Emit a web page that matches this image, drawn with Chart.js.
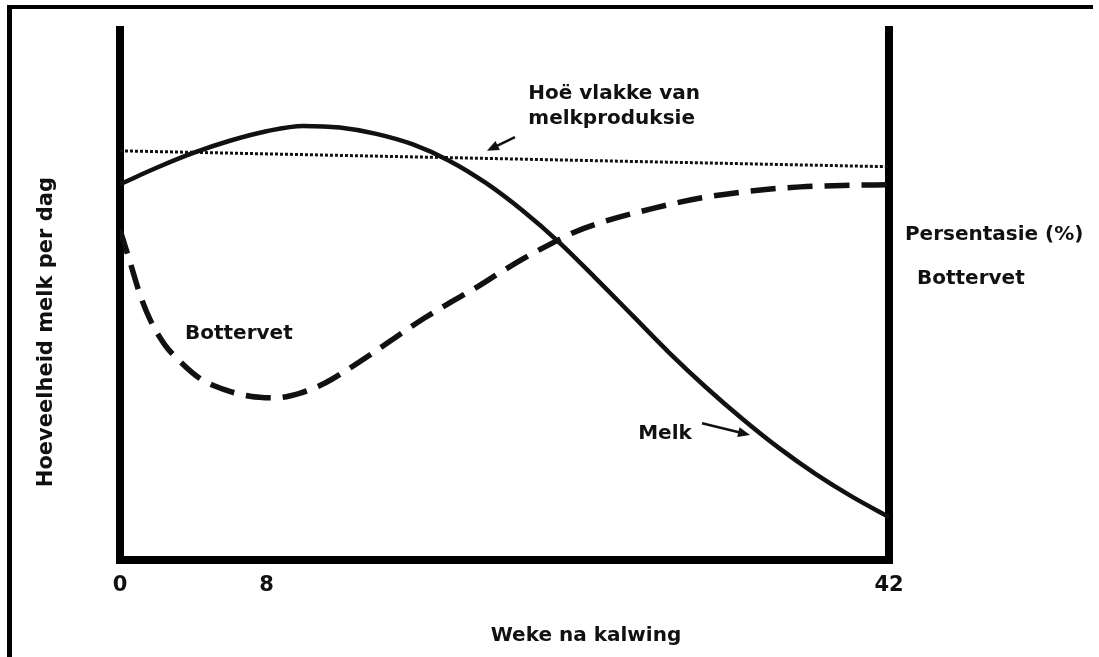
<!DOCTYPE html>
<html><head><meta charset="utf-8">
<script src="https://cdn.jsdelivr.net/npm/chart.js@4.4.1/dist/chart.umd.min.js"></script>
<style>
html,body{margin:0;padding:0;background:#fff;}
#wrap{position:relative;width:1099px;height:657px;overflow:hidden;background:#fff;}
#c{position:absolute;left:0;top:0;}
#frame{position:absolute;left:7px;top:5px;width:1086px;height:680px;border-top:4px solid #000;border-left:5px solid #000;box-sizing:border-box;pointer-events:none;}
</style></head><body>
<div id="wrap"><canvas id="c" width="1099" height="657"></canvas><div id="frame"></div></div>
<script>
// Weeks after calving (x) and relative level (y, 0-100, schematic)
const melkWeeks = [0, 2, 4, 6, 8, 10, 12, 14, 16, 18, 20, 22, 24, 26, 28, 30, 32, 34, 36, 38, 40, 42];
const melkLevel = [70.9, 74.0, 76.8, 79.1, 80.9, 81.9, 81.6, 80.4, 78.4, 75.3, 71.1, 65.9, 59.9, 53.1, 46.1, 39.1, 32.6, 26.6, 21.1, 16.2, 11.9, 8.1];

const fatWeeks = [0, 0.55, 1.1, 1.65, 2.45, 3.3, 4.35, 5.75, 7.1, 8.45, 9.85, 11.2, 12.55, 13.95, 15.3, 16.65, 18.0, 19.4, 20.75, 22.1, 23.5, 24.85, 26.2, 28.95, 31.7, 34.4, 37.15, 39.85, 42];
const fatLevel = [62.3, 56.2, 50.0, 45.3, 40.6, 37.4, 34.3, 32.1, 30.9, 30.6, 31.5, 33.4, 36.2, 39.4, 42.6, 45.7, 48.5, 51.3, 54.2, 57.0, 59.6, 61.9, 63.6, 66.2, 68.3, 69.6, 70.4, 70.7, 70.8];

const peakWeeks = [0, 42];
const peakLevel = [77.2, 74.2];

const xTickValues = [0, 8, 42];
const xTickLabels = ['0', '8', '42'];

const xTitle = 'Weke na kalwing';
const yTitle = 'Hoeveelheid melk per dag';

// Annotation texts (data coordinates: week, level)
const noteTexts = ['Hoë vlakke van', 'melkproduksie', 'Bottervet', 'Melk', 'Persentasie (%)', 'Bottervet'];
const noteX = [22.3, 22.3, 3.55, 28.3, 42.87, 43.53];
const noteY = [87.9, 83.2, 42.6, 23.8, 61.3, 53.0];

const arrowFrom = [[21.57, 79.8], [31.79, 25.8]];
const arrowTo = [[20.04, 77.2], [34.41, 23.6]];

const toPts = (xs, ys) => xs.map((v, i) => ({x: v, y: ys[i]}));

const FONT = '"DejaVu Sans", Verdana, sans-serif';

const notesPlugin = {
  id: 'notes',
  afterDraw(chart) {
    const {ctx, scales: {x, y}} = chart;
    ctx.save();
    ctx.fillStyle = '#111';
    ctx.strokeStyle = '#111';
    ctx.font = 'bold 20px ' + FONT;
    ctx.textBaseline = 'middle';
    ctx.textAlign = 'left';
    noteTexts.forEach((t, i) => {
      ctx.fillText(t, x.getPixelForValue(noteX[i]), y.getPixelForValue(noteY[i]));
    });
    // axis titles
    ctx.textAlign = 'center';
    ctx.fillText(xTitle, x.getPixelForValue(25.45), y.getPixelForValue(-14.3));
    ctx.save();
    ctx.translate(x.getPixelForValue(-3.99), y.getPixelForValue(43.0));
    ctx.rotate(-Math.PI / 2);
    ctx.font = 'bold 21px ' + FONT;
    ctx.fillText(yTitle, 0, 0);
    ctx.restore();
    // arrows
    arrowFrom.forEach((f, i) => {
      const x1 = x.getPixelForValue(f[0]), y1 = y.getPixelForValue(f[1]);
      const x2 = x.getPixelForValue(arrowTo[i][0]), y2 = y.getPixelForValue(arrowTo[i][1]);
      const ang = Math.atan2(y2 - y1, x2 - x1);
      const L = 12, W = 5;
      ctx.lineWidth = 2.5;
      ctx.beginPath();
      ctx.moveTo(x1, y1);
      ctx.lineTo(x2 - L * 0.6 * Math.cos(ang), y2 - L * 0.6 * Math.sin(ang));
      ctx.stroke();
      ctx.beginPath();
      ctx.moveTo(x2, y2);
      ctx.lineTo(x2 - L * Math.cos(ang) + W * Math.sin(ang), y2 - L * Math.sin(ang) - W * Math.cos(ang));
      ctx.lineTo(x2 - L * Math.cos(ang) - W * Math.sin(ang), y2 - L * Math.sin(ang) + W * Math.cos(ang));
      ctx.closePath();
      ctx.fill();
    });
    ctx.restore();
  }
};

new Chart(document.getElementById('c'), {
  type: 'line',
  data: {
    datasets: [
      {label: 'Melk', data: toPts(melkWeeks, melkLevel), borderColor: '#111', borderWidth: 4.5, cubicInterpolationMode: 'monotone', pointRadius: 0, fill: false},
      {label: 'Bottervet', data: toPts(fatWeeks, fatLevel), borderColor: '#111', borderWidth: 5.5, borderDash: [25, 12], cubicInterpolationMode: 'monotone', pointRadius: 0, fill: false},
      {label: 'Hoë vlakke van melkproduksie', data: toPts(peakWeeks, peakLevel), borderColor: '#111', borderWidth: 3, borderDash: [3, 2], tension: 0, pointRadius: 0, fill: false}
    ]
  },
  options: {
    responsive: false,
    animation: false,
    devicePixelRatio: 1,
    layout: {padding: {left: 120, right: 210, top: 30, bottom: 57}},
    plugins: {legend: {display: false}, tooltip: {enabled: false}, title: {display: false}},
    scales: {
      x: {
        type: 'linear', min: 0, max: 42,
        afterBuildTicks: s => { s.ticks = xTickValues.map(v => ({value: v})); },
        afterFit: s => { s.height = 40; },
        ticks: {
          autoSkip: false, maxRotation: 0, padding: 5, color: '#111',
          font: {family: FONT, size: 21, weight: 'bold'},
          callback: v => xTickLabels[xTickValues.indexOf(v)]
        },
        grid: {display: false, lineWidth: 8},
        border: {display: true, width: 8, color: '#000'}
      },
      y: {
        type: 'linear', min: 0, max: 100, position: 'left',
        afterFit: s => { s.width = 0; },
        ticks: {display: false},
        grid: {display: false, lineWidth: 8},
        border: {display: true, width: 8, color: '#000'}
      },
      y2: {
        type: 'linear', min: 0, max: 100, position: 'right',
        afterFit: s => { s.width = 0; },
        ticks: {display: false},
        grid: {display: false, lineWidth: 8},
        border: {display: true, width: 8, color: '#000'}
      }
    }
  },
  plugins: [notesPlugin]
});
</script>
</body></html>
